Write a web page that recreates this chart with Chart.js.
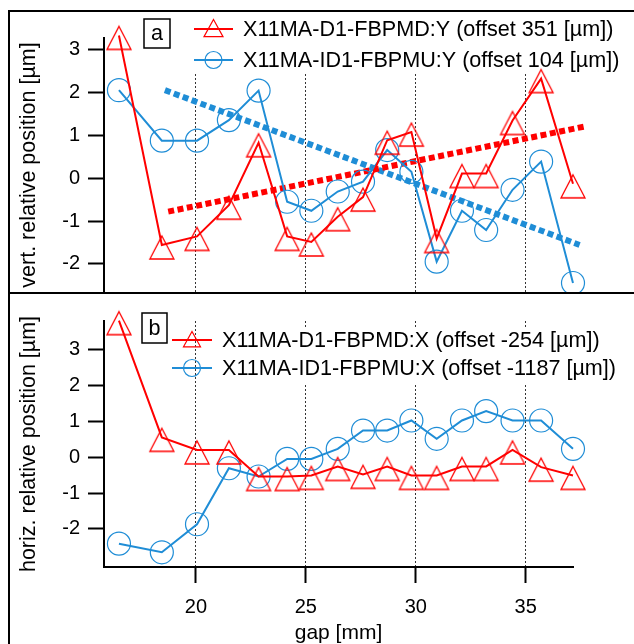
<!DOCTYPE html>
<html>
<head>
<meta charset="utf-8">
<script src="https://cdn.jsdelivr.net/npm/chart.js@4.4.1/dist/chart.umd.min.js"></script>
<style>
  html, body { margin: 0; padding: 0; background: #fff; }
  #wrap { position: relative; width: 634px; height: 644px; overflow: hidden; }
  canvas { position: absolute; left: 0; }
  #top { top: 0; }
  #bot { top: 293px; }
  .rule { position: absolute; background: #000; }
</style>
</head>
<body>
<div id="wrap">
  <canvas id="top" width="634" height="293"></canvas>
  <canvas id="bot" width="634" height="351"></canvas>
  <div class="rule" style="left:8px;top:10px;width:626px;height:2px"></div>
  <div class="rule" style="left:8px;top:10px;width:2px;height:634px"></div>
  <div class="rule" style="left:8px;top:292px;width:626px;height:2px"></div>
</div>
<script>
// gap [mm]
const gap = [16.5, 18.45, 20.05, 21.5, 22.85, 24.15, 25.25, 26.45, 27.6, 28.7, 29.8, 30.95, 32.1, 33.2, 34.4, 35.7, 37.15];

// panel a : vertical
const vertD1 = [3.34, -1.56, -1.36, -0.63, 0.83, -1.36, -1.49, -0.9, -0.44, 0.89, 1.08, -1.41, 0.11, 0.11, 1.35, 2.33, -0.13];
const vertID1 = [2.06, 0.88, 0.88, 1.36, 2.05, -0.55, -0.76, -0.31, -0.08, 0.66, 0.15, -1.95, -0.76, -1.21, -0.27, 0.39, -2.45];
const fitD1X = [18.74, 37.68];
const fitD1Y = [-0.78, 1.21];
const fitID1X = [18.59, 37.45];
const fitID1Y = [2.06, -1.56];

// panel b : horizontal
const horizD1 = [3.8, 0.55, 0.2, 0.2, -0.54, -0.54, -0.51, -0.26, -0.48, -0.26, -0.51, -0.51, -0.26, -0.26, 0.2, -0.28, -0.51];
const horizID1 = [-2.41, -2.65, -1.87, -0.31, -0.54, -0.05, -0.05, 0.23, 0.74, 0.74, 1.02, 0.51, 1.02, 1.28, 1.02, 1.02, 0.23];

const xTicks = [20, 25, 30, 35];
const yTicks = [-2, -1, 0, 1, 2, 3];

const RED = '#ff0000';
const BLUE = '#1f8dd6';
const FAMILY = '"Liberation Sans", Arial, Helvetica, sans-serif';
Chart.defaults.font.family = FAMILY;
Chart.defaults.color = '#000';

// hollow triangle marker, drawn a bit below the data point like the original
function triangleMarker(w, up, down, color) {
  const c = document.createElement('canvas');
  const half = Math.max(up, down) + 2;
  c.width = w + 4;
  c.height = half * 2;
  const g = c.getContext('2d');
  const cx = c.width / 2, cy = half;
  g.strokeStyle = color;
  g.lineWidth = 1.3;
  g.beginPath();
  g.moveTo(cx, cy - up);
  g.lineTo(cx + w / 2, cy + down);
  g.lineTo(cx - w / 2, cy + down);
  g.closePath();
  g.stroke();
  return c;
}
const tri = triangleMarker(24, 9, 14, RED);

function pts(xs, ys) {
  return xs.map((x, i) => ({ x: x, y: ys[i] }));
}

function series(label, ys, color, marker) {
  return {
    label: label,
    data: pts(gap, ys),
    showLine: true,
    borderColor: color,
    borderWidth: 2,
    backgroundColor: 'rgba(0,0,0,0)',
    pointStyle: marker,
    pointRadius: marker === 'circle' ? 11.5 : 12,
    pointBorderColor: color,
    pointBorderWidth: 1.2,
    pointBackgroundColor: 'rgba(0,0,0,0)',
    clip: false
  };
}

function fitLine(xs, ys, color) {
  return {
    label: 'fit',
    data: pts(xs, ys),
    showLine: true,
    borderColor: color,
    borderWidth: 6,
    borderDash: [6, 3.5],
    pointRadius: 0,
    clip: false
  };
}

// legend + panel letter, drawn inside the plot
const panelDecor = {
  id: 'panelDecor',
  beforeDatasetsDraw(chart, args, o) {
    const ctx = chart.ctx;
    ctx.save();
    ctx.fillStyle = '#fff';
    ctx.fillRect(o.bg[0], o.bg[1], o.bg[2], o.bg[3]);

    ctx.font = '21.6px ' + FAMILY;
    ctx.textBaseline = 'middle';
    o.rows.forEach(r => {
      const ds = chart.data.datasets[r.ds];
      ctx.strokeStyle = ds.borderColor;
      ctx.lineWidth = 2;
      ctx.beginPath();
      ctx.moveTo(r.x0, r.y);
      ctx.lineTo(r.x1, r.y);
      ctx.stroke();
      const mx = (r.x0 + r.x1) / 2;
      ctx.lineWidth = 1.2;
      ctx.beginPath();
      if (ds.pointStyle === 'circle') {
        ctx.arc(mx, r.y, r.size / 2, 0, Math.PI * 2);
      } else {
        ctx.moveTo(mx, r.y - r.size * 0.5);
        ctx.lineTo(mx + r.size / 2, r.y + r.size * 0.4);
        ctx.lineTo(mx - r.size / 2, r.y + r.size * 0.4);
        ctx.closePath();
      }
      ctx.stroke();
      ctx.fillStyle = '#000';
      ctx.textAlign = 'left';
      ctx.fillText(ds.label, r.tx, r.y + 1);
    });

    const b = o.box;
    ctx.fillStyle = '#fff';
    ctx.fillRect(b[0], b[1], b[2], b[3]);
    ctx.strokeStyle = '#000';
    ctx.lineWidth = 1.5;
    ctx.strokeRect(b[0], b[1], b[2], b[3]);
    ctx.fillStyle = '#000';
    ctx.textAlign = 'center';
    ctx.fillText(o.letter, b[0] + b[2] / 2, b[1] + b[3] / 2 + 1);
    ctx.restore();
  }
};

function xScale(bottom) {
  return {
    type: 'linear',
    min: 15.82,
    max: 37.15,
    afterBuildTicks: s => { s.ticks = xTicks.map(v => ({ value: v })); },
    afterFit: s => {
      s.height = bottom ? 77 : 0;
      s.paddingLeft = 0;
      s.paddingRight = 0;
    },
    ticks: { display: bottom, autoSkip: false, maxRotation: 0, padding: 12, font: { size: 20 } },
    grid: {
      color: '#333', lineWidth: 1,
      drawTicks: bottom, tickLength: bottom ? 16 : 0,
      tickWidth: 2, tickColor: '#000', tickBorderDash: []
    },
    border: { display: bottom, color: '#000', width: 2, dash: [2, 2] },
    title: { display: bottom, text: 'gap [mm]', font: { size: 21, lineHeight: 1 }, padding: { top: 0, bottom: 0 } }
  };
}

function yScale(min, max, title) {
  return {
    type: 'linear',
    min: min,
    max: max,
    afterBuildTicks: s => { s.ticks = yTicks.map(v => ({ value: v })); },
    afterFit: s => {
      s.width = 104;
      s.paddingTop = 0;
      s.paddingBottom = 0;
    },
    ticks: { autoSkip: false, padding: 8, font: { size: 20 } },
    grid: { drawOnChartArea: false, drawTicks: true, tickLength: 16, tickWidth: 2, tickColor: '#000' },
    border: { display: true, color: '#000', width: 2 },
    title: { display: true, text: title, font: { size: 21.5 }, padding: { top: 16, bottom: 0 } }
  };
}

const common = {
  responsive: false,
  animation: false,
  events: [],
  plugins: { legend: { display: false }, tooltip: { enabled: false } }
};

new Chart(document.getElementById('top'), {
  type: 'scatter',
  data: {
    datasets: [
      series('X11MA-D1-FBPMD:Y (offset 351 [µm])', vertD1, RED, tri),
      series('X11MA-ID1-FBPMU:Y (offset 104 [µm])', vertID1, BLUE, 'circle'),
      fitLine(fitD1X, fitD1Y, RED),
      fitLine(fitID1X, fitID1Y, BLUE)
    ]
  },
  options: Object.assign({}, common, {
    layout: { autoPadding: false, padding: { left: 0, right: 61, top: 38, bottom: 1 } },
    scales: {
      x: xScale(false),
      y: yScale(-2.66, 3.28, 'vert. relative position [µm]')
    },
    plugins: Object.assign({}, common.plugins, {
      panelDecor: {
        bg: [185, 13, 445, 60],
        box: [144, 19, 26, 29],
        letter: 'a',
        rows: [
          { ds: 0, y: 29, x0: 194, x1: 233, size: 19, tx: 243 },
          { ds: 1, y: 60, x0: 194, x1: 233, size: 17, tx: 243 }
        ]
      }
    })
  }),
  plugins: [panelDecor]
});

new Chart(document.getElementById('bot'), {
  type: 'scatter',
  data: {
    datasets: [
      series('X11MA-D1-FBPMD:X (offset -254 [µm])', horizD1, RED, tri),
      series('X11MA-ID1-FBPMU:X (offset -1187 [µm])', horizID1, BLUE, 'circle')
    ]
  },
  options: Object.assign({}, common, {
    layout: { autoPadding: false, padding: { left: 0, right: 61, top: 28, bottom: 0 } },
    scales: {
      x: xScale(true),
      y: yScale(-3.06, 3.79, 'horiz. relative position [µm]')
    },
    plugins: Object.assign({}, common.plugins, {
      panelDecor: {
        bg: [200, 35, 430, 57],
        box: [142, 20, 25, 30],
        letter: 'b',
        rows: [
          { ds: 0, y: 47, x0: 172, x1: 212, size: 17, tx: 222 },
          { ds: 1, y: 75, x0: 172, x1: 212, size: 17, tx: 222 }
        ]
      }
    })
  }),
  plugins: [panelDecor]
});
</script>
</body>
</html>
